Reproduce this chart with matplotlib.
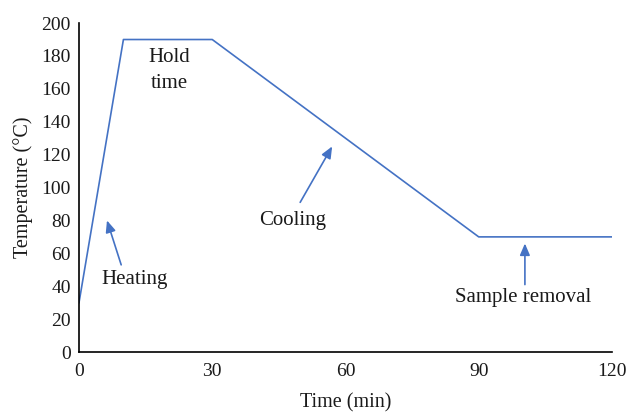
import matplotlib
matplotlib.use("Agg")
import matplotlib.pyplot as plt

# Temperature program: heating, hold, cooling, sample removal
time_min = [0, 10, 30, 90, 120]
temperature_c = [30, 190, 190, 70, 70]

x_ticks = [0, 30, 60, 90, 120]
y_ticks = [0, 20, 40, 60, 80, 100, 120, 140, 160, 180, 200]

plt.rcParams['font.family'] = ['Liberation Serif', 'DejaVu Serif']
blue = '#4472C4'
ink = '#1a1a1a'

fig = plt.figure(figsize=(6.27, 4.12), dpi=100)
ax = fig.add_axes([0.126, 0.1456, 0.85, 0.7984])

ax.plot(time_min, temperature_c, color=blue, lw=1.2)

ax.set_xlim(0, 120)
ax.set_ylim(0, 200)
ax.set_xticks(x_ticks)
ax.set_yticks(y_ticks)
ax.tick_params(length=0, labelsize=14, colors=ink)
ax.tick_params(axis='x', pad=8)
ax.tick_params(axis='y', pad=6)
for s in ('top', 'right'):
    ax.spines[s].set_visible(False)
for s in ('left', 'bottom'):
    ax.spines[s].set_linewidth(1.2)

ax.set_xlabel('Time (min)', fontsize=14.5, labelpad=9.5, color=ink)
ax.set_ylabel('Temperature (°C)', fontsize=14.5, labelpad=6, color=ink)

arrow = dict(arrowstyle='-|>,head_length=0.7,head_width=0.3', color=blue, lw=1.2,
             shrinkA=0, shrinkB=0)
txt = dict(fontsize=15, color=ink)

ax.annotate('', xy=(6.3, 80), xytext=(9.5, 53), arrowprops=arrow)
ax.text(5.1, 44, 'Heating', ha='left', va='center', **txt)

ax.text(20.3, 171, 'Hold\ntime', ha='center', va='center', linespacing=1.5, **txt)

ax.annotate('', xy=(57, 125), xytext=(49.8, 91), arrowprops=arrow)
ax.text(48.2, 80, 'Cooling', ha='center', va='center', **txt)

ax.annotate('', xy=(100.4, 66), xytext=(100.4, 41), arrowprops=arrow)
ax.text(100, 33, 'Sample removal', ha='center', va='center', **txt)

fig.savefig('out.png', dpi=100)
